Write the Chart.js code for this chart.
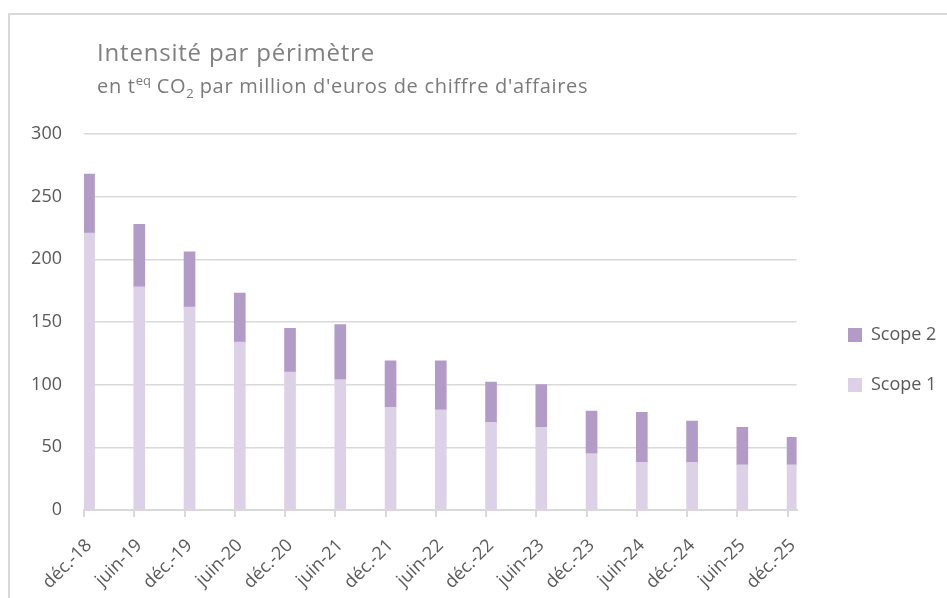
<!DOCTYPE html>
<html lang="fr">
<head>
<meta charset="utf-8">
<script src="https://cdn.jsdelivr.net/npm/chart.js@4/dist/chart.umd.min.js"></script>
<style>
  body { margin:0; width:947px; height:598px; background:#fff; position:relative; overflow:hidden; font-family:"Open Sans", sans-serif; }
  #frame { position:absolute; left:8px; top:13px; width:960px; height:600px; border-top:2px solid #d9d9d9; border-left:2px solid #d9d9d9; }
  #title { position:absolute; left:97px; top:40px; font-size:24px; line-height:24px; letter-spacing:0.8px; color:#808080; white-space:nowrap; }
  #subtitle { position:absolute; left:97px; top:76px; font-size:20px; line-height:20px; letter-spacing:0.7px; color:#7a7a7a; white-space:nowrap; }
  #subtitle sup, #subtitle sub { font-size:13px; line-height:0; letter-spacing:0; }
  canvas { position:absolute; left:0; top:0; }
</style>
</head>
<body>
<div id="frame"></div>
<canvas id="chart" width="947" height="598"></canvas>
<div id="title">Intensité par périmètre</div>
<div id="subtitle">en t<sup>eq</sup> CO<sub>2</sub> par million d'euros de chiffre d'affaires</div>
<script>
const periods = ["déc.-18", "juin-19", "déc.-19", "juin-20", "déc.-20", "juin-21", "déc.-21", "juin-22",
                 "déc.-22", "juin-23", "déc.-23", "juin-24", "déc.-24", "juin-25", "déc.-25"];
const scope1 = [221, 178, 162, 134, 110, 104, 82, 80, 70, 66, 45, 38, 38, 36, 36];
const scope2 = [47, 50, 44, 39, 35, 44, 37, 39, 32, 34, 34, 40, 33, 30, 22];

// bars sit just right of their tick, like the original
const barShift = 0.1;
const grey = "#595959";

function points(values) {
    return values.map((v, i) => ({ x: i + barShift, y: v }));
}

// move the legend to where it sits in the original
const legendPlace = {
    id: "legendPlace",
    afterLayout(chart) {
        const lg = chart.legend;
        const dx = 848 - (lg.left + lg.options.labels.padding);
        lg.left += dx; lg.right += dx;
        const h = lg.bottom - lg.top;
        lg.top = 294; lg.bottom = lg.top + h;
    }
};

new Chart(document.getElementById("chart"), {
    type: "bar",
    data: {
        datasets: [
            { label: "Scope 1", data: points(scope1), backgroundColor: "#ddd1e7", borderWidth: 0 },
            { label: "Scope 2", data: points(scope2), backgroundColor: "#b39bc8", borderWidth: 0 }
        ]
    },
    options: {
        responsive: false,
        animation: false,
        barThickness: 11,
        layout: { padding: { top: 134, right: 20, bottom: 0, left: 0 } },
        plugins: {
            tooltip: { enabled: false },
            legend: {
                position: "right",
                align: "start",
                reverse: true,
                labels: {
                    boxWidth: 14, boxHeight: 14, padding: 32,
                    color: grey,
                    font: { family: "Open Sans", size: 18 }
                }
            }
        },
        scales: {
            x: {
                type: "linear",
                stacked: true,
                offset: false,
                min: 0,
                max: 14.18,
                afterBuildTicks: s => { s.ticks = periods.map((p, i) => ({ value: i })); },
                afterFit: s => { s.height = 88; },
                ticks: {
                    autoSkip: false,
                    maxRotation: 45, minRotation: 45,
                    labelOffset: 5,
                    padding: 18,
                    color: grey,
                    font: { family: "Open Sans", size: 18 },
                    callback: v => periods[Math.round(v)]
                },
                grid: { offset: false, drawOnChartArea: false, tickLength: 7, color: "#d9d9d9", lineWidth: 2 },
                border: { color: "#d9d9d9", width: 2 }
            },
            y: {
                stacked: true,
                min: 0,
                max: 300,
                afterFit: s => { s.width = 84; },
                ticks: {
                    stepSize: 50,
                    padding: 22,
                    color: grey,
                    font: { family: "Open Sans", size: 18 }
                },
                grid: { color: "#d9d9d9", lineWidth: 1.5, drawTicks: false },
                border: { display: false }
            }
        }
    },
    plugins: [legendPlace]
});
</script>
</body>
</html>
